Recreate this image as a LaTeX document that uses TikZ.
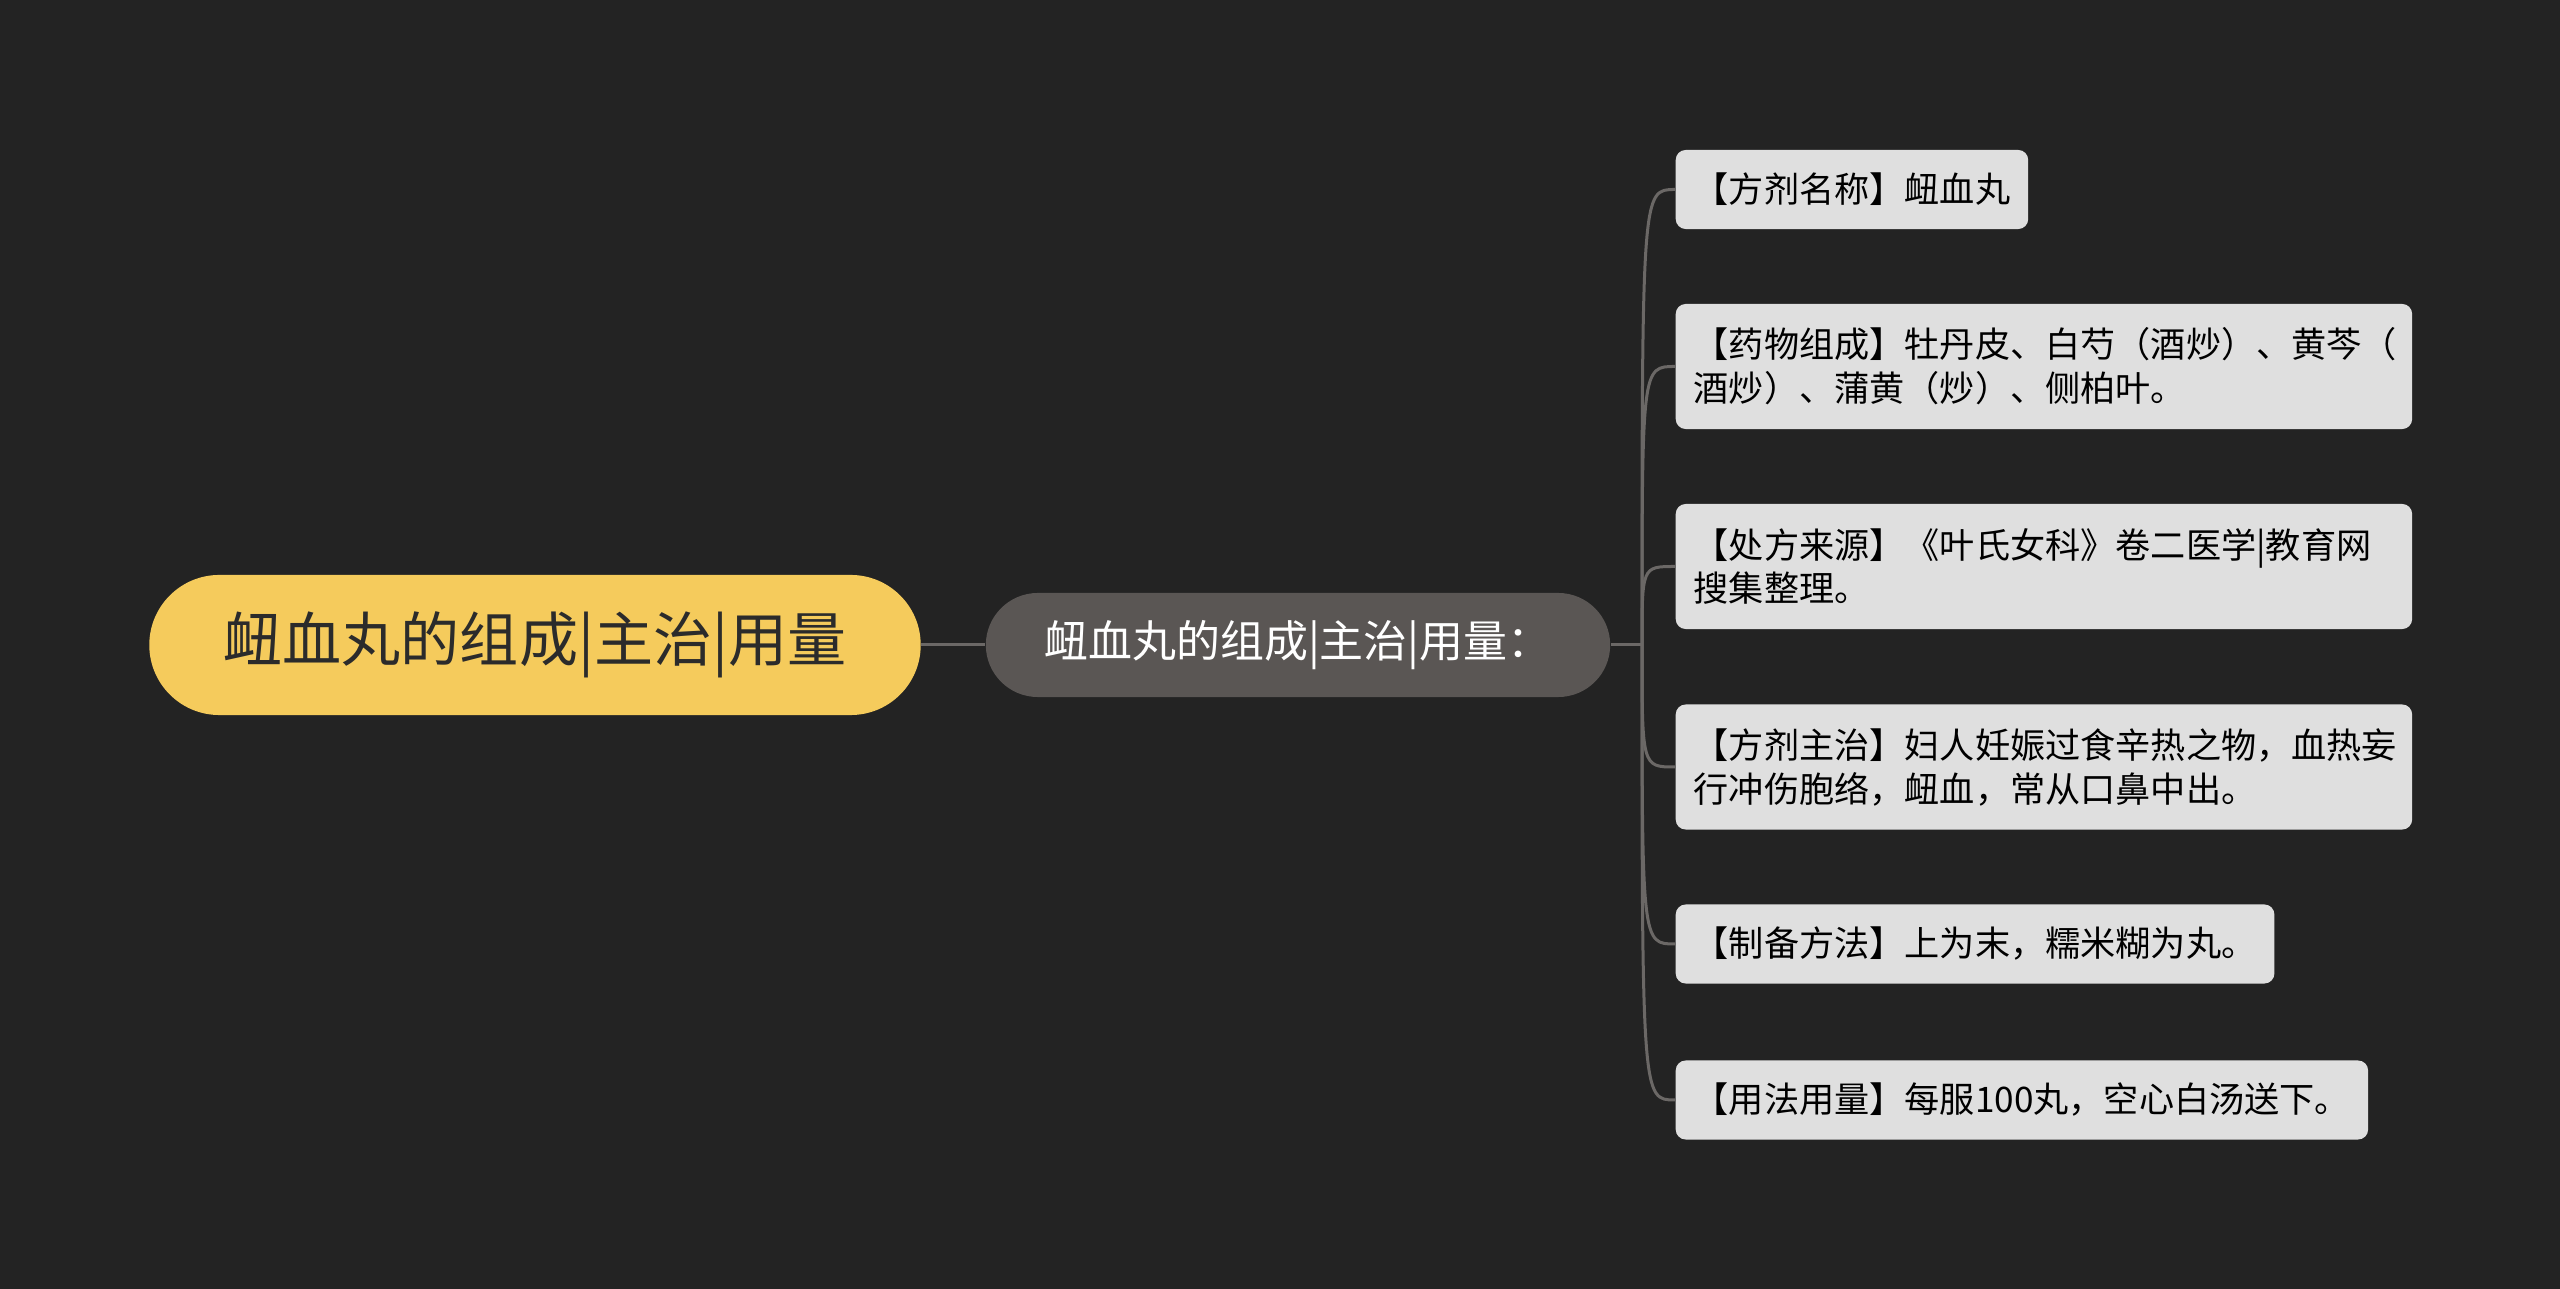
\documentclass[tikz,border=0pt]{standalone}
\usepackage{fontspec}
\newfontfamily\cjk{Noto Sans CJK SC}
\usepackage{tikz}
\usetikzlibrary{positioning}

\definecolor{bg}{HTML}{232323}
\definecolor{rootyellow}{HTML}{F5CB5C}
\definecolor{topicgray}{HTML}{5A5654}
\definecolor{leafgray}{HTML}{DFDFDF}
\definecolor{linegray}{HTML}{6B6866}
\definecolor{ink}{HTML}{2B2B2B}

\begin{document}
\begin{tikzpicture}[x=0.01cm, y=-0.01cm,
		root/.style={rectangle, rounded corners=0.7cm, fill=rootyellow, text=ink, inner sep=0pt, minimum width=7.71cm, minimum height=1.4cm, font=\cjk\fontsize{16.8}{20}\selectfont},
		topic/.style={rectangle, rounded corners=0.52cm, fill=topicgray, text=white, inner sep=0pt, minimum width=6.24cm, minimum height=1.04cm, font=\cjk\fontsize{12.5}{15}\selectfont},
		leaf/.style={rectangle, rounded corners=0.1cm, fill=leafgray, text=black, anchor=west, align=left, inner xsep=0.18cm, inner ysep=0pt, minimum height=0.79cm, font=\cjk\fontsize{10}{12.5}\selectfont},
		twoline/.style={text width=7cm, minimum height=1.25cm},
		link/.style={draw=linegray, line width=0.03cm},
		branch/.style={link, to path={.. controls (\tikztostart |- \tikztotarget) .. (\tikztotarget)}}]
		\fill[bg] (0,0) rectangle (2560,1289);
		\useasboundingbox (0,0) rectangle (2560,1289);

		\node[root]				(1) at (535, 645) {衄血丸的组成|主治|用量};
		\node[topic]			(2) at (1298, 645) {衄血丸的组成|主治|用量：};
		\coordinate				(j) at (1642, 645);
		\node[leaf]				(3) at (1675, 189.5) {【方剂名称】衄血丸};
		\node[leaf, twoline]	(4) at (1675, 366.5) {【药物组成】牡丹皮、白芍（酒炒）、黄芩（\\酒炒）、蒲黄（炒）、侧柏叶。};
		\node[leaf, twoline]	(5) at (1675, 566.5) {【处方来源】《叶氏女科》卷二医学|教育网\\搜集整理。};
		\node[leaf, twoline]	(6) at (1675, 767) {【方剂主治】妇人妊娠过食辛热之物，血热妄\\行冲伤胞络，衄血，常从口鼻中出。};
		\node[leaf]				(7) at (1675, 944) {【制备方法】上为末，糯米糊为丸。};
		\node[leaf]				(8) at (1675, 1100) {【用法用量】每服100丸，空心白汤送下。};

		\path	(1) edge[link] (2)
				(2.east) edge[link] (j)
				(j) edge[branch] (3)
				(j) edge[branch] (4)
				(j) edge[branch] (5)
				(j) edge[branch] (6)
				(j) edge[branch] (7)
				(j) edge[branch] (8);
	\end{tikzpicture}
\end{document}
